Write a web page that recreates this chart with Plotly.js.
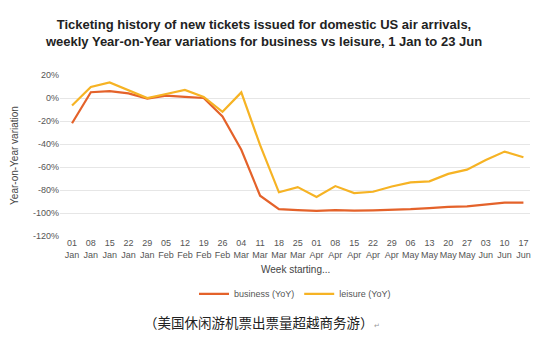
<!DOCTYPE html>
<html><head><meta charset="utf-8">
<script src="https://cdn.plot.ly/plotly-3.0.1.min.js"></script>
<style>html,body{margin:0;padding:0;background:#fff}#chart{width:550px;height:338px}</style>
</head><body><div id="chart"></div>
<script>
const weeks = ["01<br>Jan","08<br>Jan","15<br>Jan","22<br>Jan","29<br>Jan","05<br>Feb","12<br>Feb","19<br>Feb","26<br>Feb","04<br>Mar","11<br>Mar","18<br>Mar","25<br>Mar","01<br>Apr","08<br>Apr","15<br>Apr","22<br>Apr","29<br>Apr","06<br>May","13<br>May","20<br>May","27<br>May","03<br>Jun","10<br>Jun","17<br>Jun"];
const business = [-22,5,6,4,-0.5,2,1,0,-16,-45,-85,-96.7,-97.5,-98.2,-97.5,-98,-97.7,-97.3,-96.7,-95.8,-94.6,-94.3,-92.6,-91,-91];
const leisure = [-6.5,9.6,13.6,7,0,3.5,7,1,-12,4.9,-41,-82,-77.5,-86,-76.6,-82.7,-81.5,-77,-73.4,-72.5,-66,-62.3,-54,-46.6,-51.5];
const yTicks = [20,0,-20,-40,-60,-80,-100,-120];
const yTickText = ["20%","0%","-20%","-40%","-60%","-80%","-100%","-120%"];

const idx = weeks.map((_, i) => i);
const traces = [
  {x: idx, y: business, name: "business (YoY)", type: "scatter", mode: "lines",
   line: {color: "#E4622A", width: 2.2}},
  {x: idx, y: leisure, name: "leisure (YoY)", type: "scatter", mode: "lines",
   line: {color: "#F6B324", width: 2.2}}
];
const layout = {
  width: 550, height: 338,
  margin: {l: 60, r: 20, t: 75, b: 102},
  paper_bgcolor: "#fff", plot_bgcolor: "#fff",
  font: {family: "Liberation Sans, Arial, sans-serif", color: "#555", size: 9},
  title: {text: "<b>Ticketing history of new tickets issued for domestic US air arrivals,<br>weekly Year-on-Year variations for business vs leisure, 1 Jan to 23 Jun</b>",
    font: {size: 13, color: "#222"}, x: 0.48, xanchor: "center", y: 0.915, yanchor: "middle"},
  xaxis: {tickvals: idx, ticktext: weeks, range: [-0.64, 24.35], showgrid: false, zeroline: false,
    showline: false, ticks: "", tickangle: 0, tickfont: {size: 9, color: "#555"}, fixedrange: true},
  yaxis: {range: [-120, 20], tickvals: yTicks, ticktext: yTickText, showgrid: true, gridcolor: "#e6e6e6",
    gridwidth: 1, zeroline: false, showline: false, ticks: "", tickfont: {size: 9, color: "#555"},
    title: {text: "Year-on-Year variation", font: {size: 10, color: "#444"}, standoff: 12}},
  showlegend: true,
  legend: {orientation: "h", x: 0.5, xanchor: "center", y: -0.36, yanchor: "middle",
    font: {size: 9, color: "#555"}, itemwidth: 30},
  annotations: [
    {text: "Week starting...", xref: "paper", yref: "paper", x: 0.5, y: -0.21, xanchor: "center", yanchor: "middle",
     showarrow: false, font: {size: 10, color: "#444"}},
    {text: "（美国休闲游机票出票量超越商务游）<span style='font-size:7px;color:#999'>↵</span>", xref: "paper", yref: "paper", x: 0.43, y: -0.535,
     xanchor: "center", yanchor: "middle", showarrow: false,
     font: {family: "Noto Sans CJK SC, sans-serif", size: 13.5, color: "#222"}}
  ]
};
Plotly.newPlot("chart", traces, layout, {displayModeBar: false, staticPlot: true});
</script></body></html>
